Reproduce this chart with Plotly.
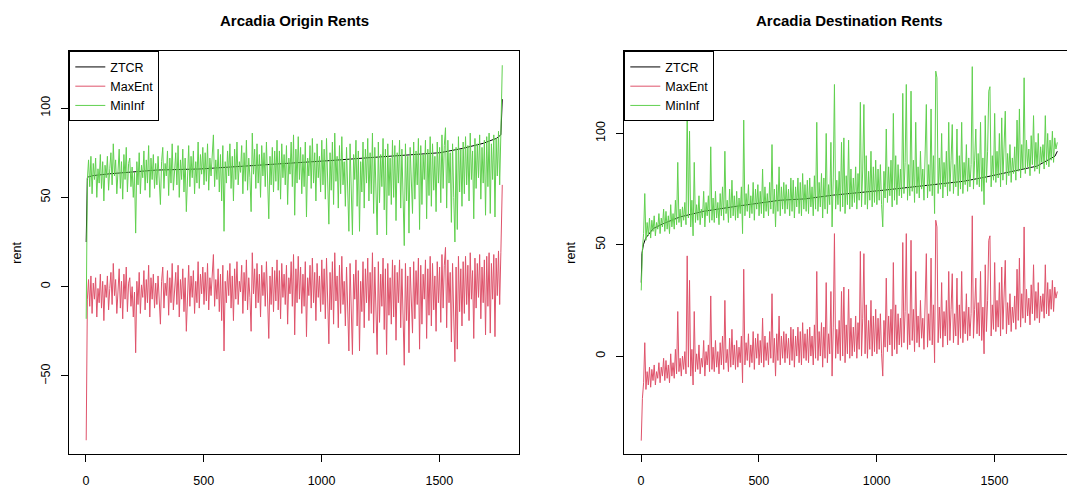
import plotly.graph_objects as go

# ---------------- data ----------------
# sampled index positions of the noisy series: 1, 3, then every 5 from 6 to 1761, then 1767
x_noisy = [1, 3] + list(range(6, 1762, 5)) + [1767]

# ---- Origin panel ----
origin_ztcr_x = [1, 3, 6, 11, 31, 100, 173, 300, 484, 597, 700, 810, 908, 1036,
                 1220, 1361, 1503, 1601, 1687, 1743, 1761, 1767]
origin_ztcr = [25, 58, 61, 61.5, 62.2, 63.2, 64.0, 65.3, 65.9, 66.8, 67.8, 68.7, 69.6,
               70.6, 72.4, 73.7, 75.0, 77.5, 80.3, 83.1, 85, 105]

origin_mininf_start = [-18, 40]
origin_mininf_blocks = [
    [60, 71, 56, 73, 52, 69, 60, 72, 50, 66, 58, 74, 55, 70, 48, 68, 61, 73, 54, 66],
    [75, 57, 80, 62, 71, 52, 68, 77, 55, 70, 49, 74, 60, 78, 53, 69, 72, 56, 67, 50],
    [64, 30, 70, 57, 75, 52, 68, 61, 76, 54, 71, 58, 79, 50, 72, 60, 74, 55, 69, 57],
    [73, 56, 46, 70, 78, 55, 69, 62, 76, 51, 72, 58, 80, 54, 67, 75, 57, 79, 50, 71],
    [60, 77, 53, 72, 42, 68, 79, 56, 73, 61, 76, 52, 70, 58, 81, 55, 74, 63, 78, 57],
    [75, 59, 80, 54, 72, 62, 78, 85, 56, 71, 60, 77, 53, 74, 48, 79, 31, 70, 58, 76],
    [62, 80, 55, 73, 48, 77, 60, 81, 57, 70, 64, 79, 52, 75, 59, 82, 54, 72, 61, 42],
    [86, 63, 77, 55, 80, 58, 74, 50, 79, 62, 75, 56, 81, 60, 38, 73, 57, 78, 53, 76],
    [59, 82, 54, 76, 49, 80, 61, 74, 57, 79, 46, 72, 63, 81, 56, 85, 40, 77, 58, 84],
    [60, 78, 52, 74, 56, 81, 39, 72, 62, 79, 55, 83, 58, 75, 48, 80, 61, 73, 53, 82],
    [57, 77, 49, 83, 62, 35, 75, 54, 81, 46, 86, 59, 73, 44, 79, 52, 84, 57, 70, 45],
    [78, 50, 31, 80, 56, 29, 74, 60, 82, 45, 76, 31, 70, 53, 81, 44, 77, 58, 83, 48],
    [75, 52, 86, 41, 78, 59, 29, 81, 47, 74, 56, 83, 43, 77, 29, 80, 51, 72, 46, 82],
    [50, 79, 37, 75, 58, 82, 44, 77, 52, 23, 80, 48, 73, 30, 78, 55, 41, 81, 49, 76],
    [57, 83, 32, 79, 46, 74, 60, 82, 38, 77, 51, 84, 45, 80, 54, 73, 42, 81, 58, 78],
    [47, 85, 55, 79, 89, 44, 82, 58, 75, 36, 80, 50, 25, 78, 32, 84, 53, 77, 45, 81],
    [52, 84, 57, 79, 48, 86, 60, 76, 38, 83, 55, 80, 61, 85, 49, 78, 58, 82, 40, 84],
    [56, 86, 41, 80, 60, 85, 39, 83, 62, 87, 57, 86],
]
origin_mininf_end = [124]

origin_maxent_start = [-86, -27]
origin_maxent_blocks = [
    [-7, 4, -11, 6, -15, 2, -7, 5, -17, -1, -9, 7, -12, 3, -19, 1, -6, 6, -13, -1],
    [8, -10, 13, -5, 4, -15, 1, 10, -12, 3, -18, 7, -7, 11, -14, 2, 5, -11, 0, -17],
    [-3, -37, 3, -10, 8, -15, 1, -6, 9, -13, 4, -9, 12, -17, 5, -7, 7, -12, 2, -10],
    [6, -11, -21, 3, 11, -12, 2, -5, 9, -16, 5, -9, 13, -13, 0, 8, -10, 12, -17, 4],
    [-7, 10, -14, 5, -25, 1, 12, -11, 6, -6, 9, -15, 3, -9, 14, -12, 7, -4, 11, -10],
    [8, -8, 13, -13, 5, -5, 11, 18, -11, 4, -7, 10, -14, 7, -19, 12, -36, 3, -9, 9],
    [-5, 13, -12, 6, -19, 10, -7, 14, -10, 3, -3, 12, -15, 8, -8, 15, -13, 5, -6, -25],
    [19, -4, 10, -12, 13, -9, 7, -17, 12, -5, 8, -11, 14, -7, -29, 6, -10, 11, -14, 9],
    [-8, 15, -13, 9, -18, 13, -6, 7, -10, 12, -21, 5, -4, 14, -11, 18, -27, 10, -9, 17],
    [-7, 11, -15, 7, -11, 14, -28, 5, -5, 12, -12, 16, -9, 8, -19, 13, -6, 6, -14, 15],
    [-10, 10, -18, 16, -5, -32, 8, -13, 14, -21, 19, -8, 6, -23, 12, -15, 17, -10, 3, -22],
    [11, -17, -36, 13, -11, -38, 7, -7, 15, -22, 9, -36, 3, -14, 14, -23, 10, -9, 16, -19],
    [8, -15, 19, -26, 11, -8, -38, 14, -20, 7, -11, 16, -24, 10, -38, 13, -16, 5, -21, 15],
    [-17, 12, -30, 8, -9, 15, -23, 10, -15, -44, 13, -19, 6, -37, 11, -12, -26, 14, -18, 9],
    [-10, 16, -35, 12, -21, 7, -7, 15, -29, 10, -16, 17, -22, 13, -13, 6, -25, 14, -9, 11],
    [-20, 18, -12, 12, 22, -23, 15, -9, 8, -31, 13, -17, -42, 11, -35, 17, -14, 10, -22, 14],
    [-15, 17, -10, 12, -19, 19, -7, 9, -29, 16, -12, 13, -6, 18, -18, 11, -9, 15, -27, 17],
    [-11, 19, -26, 13, -7, 18, -28, 16, -5, 20, -10, 19],
]
origin_maxent_end = [57]

# ---- Destination panel ----
dest_ztcr_x = [1, 4, 10, 20, 52, 95, 166, 264, 406, 491, 590, 696, 816, 1029,
               1213, 1368, 1467, 1595, 1680, 1757, 1767]
dest_ztcr = [33, 46, 50, 53, 57.3, 59.5, 62.5, 65, 67.3, 68.5, 70, 70.6, 72.3, 74.5,
             76.8, 78.5, 80.5, 83.2, 85.3, 89.8, 92]

dest_mininf_start = [29.5, 40]
dest_mininf_blocks = [
    [48, 55, 73, 52, 60, 54, 62, 53, 61, 56, 63, 54, 60, 57, 64, 55, 62, 58, 66, 56],
    [65, 57, 63, 55, 68, 58, 64, 57, 70, 59, 87, 60, 66, 58, 67, 61, 69, 59, 112, 62],
    [101, 58, 70, 54, 87, 60, 68, 61, 72, 59, 66, 62, 74, 58, 69, 63, 72, 60, 94, 61],
    [71, 60, 74, 62, 69, 59, 73, 63, 76, 61, 92, 64, 70, 60, 75, 62, 79, 63, 72, 61],
    [74, 62, 71, 64, 76, 55, 106, 63, 73, 65, 77, 62, 72, 64, 78, 61, 75, 66, 77, 63],
    [74, 64, 84, 62, 76, 65, 73, 63, 78, 66, 95, 64, 75, 58, 77, 65, 85, 63, 76, 66],
    [78, 64, 77, 66, 75, 63, 80, 65, 79, 62, 76, 67, 80, 64, 78, 63, 82, 66, 77, 65],
    [79, 64, 80, 67, 76, 63, 81, 66, 105, 65, 78, 67, 82, 62, 80, 66, 100, 64, 77, 68],
    [96, 58, 80, 122, 66, 79, 68, 83, 65, 96, 67, 98, 64, 81, 68, 97, 66, 84, 67, 80],
    [69, 85, 66, 82, 70, 114, 67, 84, 113, 68, 90, 66, 83, 70, 92, 67, 85, 69, 88, 68],
    [84, 70, 86, 68, 58, 83, 71, 102, 69, 85, 72, 88, 67, 109, 70, 90, 68, 86, 72, 84],
    [71, 118, 73, 87, 122, 70, 86, 72, 119, 74, 88, 69, 105, 73, 85, 71, 92, 75, 84, 70],
    [88, 113, 71, 86, 74, 111, 72, 90, 64, 128, 125, 73, 89, 75, 100, 71, 87, 76, 92, 72],
    [105, 74, 88, 104, 73, 86, 76, 102, 72, 90, 75, 105, 73, 87, 77, 95, 74, 89, 76, 86],
    [130, 75, 88, 102, 77, 91, 76, 105, 74, 89, 68, 108, 78, 92, 119, 121, 76, 90, 79, 109],
    [78, 92, 80, 100, 76, 107, 79, 93, 110, 77, 91, 81, 95, 78, 89, 82, 94, 79, 106, 83],
    [111, 80, 95, 84, 125, 82, 97, 85, 93, 81, 99, 86, 108, 83, 96, 84, 100, 82, 94, 87],
    [95, 84, 108, 86, 100, 85, 97, 88, 101, 87, 98, 93],
]
dest_mininf_end = [96]

dest_maxent_start = [-38, -27]
dest_maxent_blocks = [
    [-19, -12, 6, -15, -7, -13, -5, -14, -6, -11, -4, -13, -7, -10, -3, -12, -5, -9, -1, -11],
    [-2, -10, -4, -12, 1, -9, -3, -10, 3, -8, 20, -7, -1, -9, 0, -6, 2, -8, 45, -5],
    [34, -9, 3, -13, 20, -7, 1, -6, 5, -8, -1, -5, 7, -9, 2, -4, 5, -7, 27, -6],
    [4, -7, 7, -5, 2, -8, 6, -4, 9, -6, 25, -3, 3, -7, 8, -5, 12, -4, 5, -6],
    [7, -5, 4, -3, 9, -12, 39, -4, 6, -2, 10, -5, 5, -3, 11, -6, 8, -1, 10, -4],
    [7, -3, 17, -5, 9, -2, 6, -4, 11, -1, 28, -3, 8, -9, 10, -2, 18, -4, 9, -1],
    [11, -3, 10, -1, 8, -4, 13, -2, 12, -5, 9, 0, 13, -3, 11, -4, 15, -1, 10, -2],
    [12, -3, 13, 0, 9, -4, 14, -1, 38, -2, 11, 0, 15, -5, 13, -1, 33, -3, 10, 1],
    [29, -9, 13, 55, -1, 12, 1, 16, -2, 29, 0, 31, -3, 14, 1, 30, -1, 17, 0, 13],
    [2, 18, -1, 15, 3, 47, 0, 17, 46, 1, 23, -1, 16, 3, 25, 0, 18, 2, 21, 1],
    [17, 3, 19, 1, -9, 16, 4, 35, 2, 18, 5, 21, 0, 42, 3, 23, 1, 19, 5, 17],
    [4, 51, 6, 20, 55, 3, 19, 5, 52, 7, 21, 2, 38, 6, 18, 4, 25, 8, 17, 3],
    [21, 46, 4, 19, 7, 44, 5, 23, -3, 61, 58, 6, 22, 8, 33, 4, 20, 9, 25, 5],
    [38, 7, 21, 37, 6, 19, 9, 35, 5, 23, 8, 38, 6, 20, 10, 28, 7, 22, 9, 19],
    [63, 8, 21, 35, 10, 24, 9, 38, 7, 22, 1, 41, 11, 25, 52, 54, 9, 23, 12, 42],
    [11, 25, 13, 33, 9, 40, 12, 26, 43, 10, 24, 14, 28, 11, 22, 15, 27, 12, 39, 16],
    [44, 13, 28, 17, 58, 15, 30, 18, 26, 14, 32, 19, 41, 16, 29, 17, 33, 15, 27, 20],
    [28, 17, 41, 19, 33, 18, 30, 21, 34, 20, 31, 26],
]
dest_maxent_end = [29]

series_names = ["ZTCR", "MaxEnt", "MinInf"]
series_colors = ["black", "#DF536B", "#61D04F"]
titles = ["Arcadia Origin Rents", "Arcadia Destination Rents"]
x_ticks = [0, 500, 1000, 1500]
origin_y_ticks = [-50, 0, 50, 100]
dest_y_ticks = [0, 50, 100]


def assemble(start, blocks, end, label):
    sizes = [len(b) for b in blocks]
    expected = [20] * 17 + [12]
    if sizes != expected:
        raise ValueError(f"{label}: block sizes {sizes}")
    out = list(start)
    for b in blocks:
        out.extend(b)
    out.extend(end)
    if len(out) != len(x_noisy):
        raise ValueError(f"{label}: {len(out)} vs {len(x_noisy)}")
    return out


origin_mininf = assemble(origin_mininf_start, origin_mininf_blocks, origin_mininf_end, "om")
origin_maxent = assemble(origin_maxent_start, origin_maxent_blocks, origin_maxent_end, "oM")
dest_mininf = assemble(dest_mininf_start, dest_mininf_blocks, dest_mininf_end, "dm")
dest_maxent = assemble(dest_maxent_start, dest_maxent_blocks, dest_maxent_end, "dM")

# ---------------- figure ----------------
W, H = 1067, 489
FONT = "Liberation Sans, Arial, Helvetica, sans-serif"
FS = 12.5

fig = go.Figure()

panels = [
    dict(xa="x", ya="y", leg="legend",
         data=[(origin_ztcr_x, origin_ztcr), (x_noisy, origin_maxent), (x_noisy, origin_mininf)]),
    dict(xa="x2", ya="y2", leg="legend2",
         data=[(dest_ztcr_x, dest_ztcr), (x_noisy, dest_maxent), (x_noisy, dest_mininf)]),
]
for p in panels:
    for (xs, ys), name, col in zip(p["data"], series_names, series_colors):
        fig.add_trace(go.Scatter(x=xs, y=ys, mode="lines", name=name,
                                 line=dict(color=col, width=1),
                                 xaxis=p["xa"], yaxis=p["ya"], legend=p["leg"],
                                 hoverinfo="skip"))

# plot-box geometry in pixels
L1, R1 = 69.3, 519.0
L2 = 624.3
TOP, BOT = 51.3, 454.0
ydom = [(H - BOT) / H, (H - TOP) / H]

axis_common = dict(showline=True, linecolor="black", linewidth=1, ticks="outside",
                   ticklen=7, tickcolor="black", tickwidth=1, showgrid=False,
                   zeroline=False, tickfont=dict(family=FONT, size=FS, color="black"))

fig.update_layout(
    width=W, height=H, autosize=False,
    margin=dict(l=0, r=0, t=0, b=0, pad=0),
    paper_bgcolor="white", plot_bgcolor="white",
    font=dict(family=FONT, size=FS, color="black"),
    xaxis=dict(domain=[L1 / W, R1 / W], range=[-70.7, 1838], tickvals=x_ticks,
               mirror=True, anchor="y", ticklabelstandoff=8, **axis_common),
    yaxis=dict(domain=ydom, range=[-93.7, 131.8], tickvals=origin_y_ticks,
               tickangle=-90, mirror=True, anchor="x", ticklabelstandoff=6, **axis_common),
    xaxis2=dict(domain=[L2 / W, 1.0], range=[-70.9, 1808], tickvals=x_ticks,
                mirror=True, anchor="y2", ticklabelstandoff=8, **axis_common),
    yaxis2=dict(domain=ydom, range=[-44.0, 136.9], tickvals=dest_y_ticks,
                tickangle=-90, mirror=False, anchor="x2", ticklabelstandoff=6, **axis_common),
    legend=dict(x=L1 / W, y=ydom[1], xanchor="left", yanchor="top",
                bgcolor="white", bordercolor="black", borderwidth=1,
                font=dict(family=FONT, size=FS, color="black")),
    legend2=dict(x=L2 / W, y=ydom[1], xanchor="left", yanchor="top",
                 bgcolor="white", bordercolor="black", borderwidth=1,
                 font=dict(family=FONT, size=FS, color="black")),
    showlegend=True,
)

annotations = []
for title, (l, r) in zip(titles, [(L1, R1), (L2, 1074.0)]):
    annotations.append(dict(text=f"<b>{title}</b>", x=(l + r) / 2 / W, y=(H - 20.5) / H,
                            xref="paper", yref="paper", xanchor="center", yanchor="middle",
                            showarrow=False, font=dict(family=FONT, size=15, color="black")))
for xc in (17, 571):
    annotations.append(dict(text="rent", x=xc / W, y=(H - (TOP + BOT) / 2) / H,
                            xref="paper", yref="paper", xanchor="center", yanchor="middle",
                            textangle=-90, showarrow=False,
                            font=dict(family=FONT, size=FS, color="black")))
fig.update_layout(annotations=annotations)

fig.write_html("out.html")
